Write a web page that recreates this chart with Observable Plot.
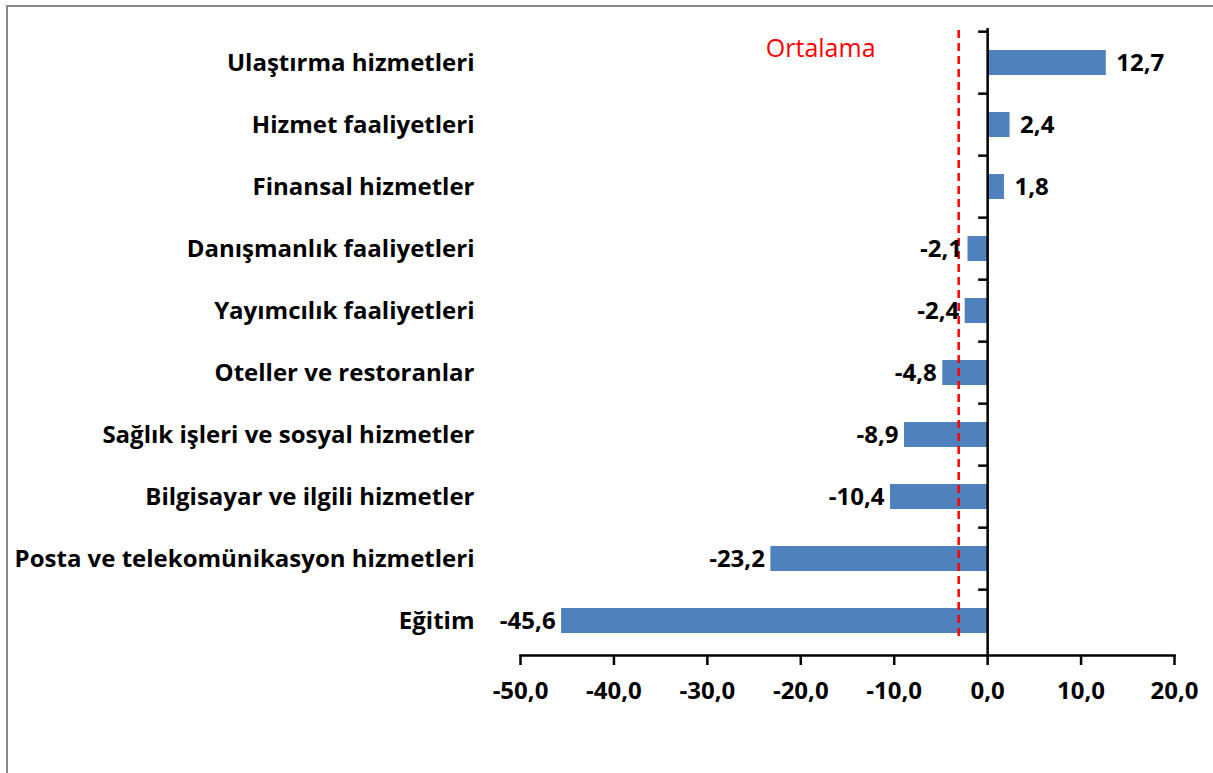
<!DOCTYPE html>
<html>
<head>
<meta charset="utf-8">
<script src="https://cdn.jsdelivr.net/npm/d3@7"></script>
<script src="https://cdn.jsdelivr.net/npm/@observablehq/plot@0.6"></script>
<style>
  html, body { margin: 0; padding: 0; background: #fff; overflow: hidden; }
  #wrap { position: relative; width: 1213px; height: 773px; }
  #frame { position: absolute; left: 6px; top: 5px; width: 1300px; height: 900px; border-left: 2px solid #888; border-top: 2px solid #888; pointer-events: none; }
  #chart { position: absolute; left: 0; top: 0; }
</style>
</head>
<body>
<div id="wrap"><div id="chart"></div><div id="frame"></div></div>
<script>
const categories = [
  "Ulaştırma hizmetleri",
  "Hizmet faaliyetleri",
  "Finansal hizmetler",
  "Danışmanlık faaliyetleri",
  "Yayımcılık faaliyetleri",
  "Oteller ve restoranlar",
  "Sağlık işleri ve sosyal hizmetler",
  "Bilgisayar ve ilgili hizmetler",
  "Posta ve telekomünikasyon hizmetleri",
  "Eğitim"
];
const values = [12.7, 2.4, 1.8, -2.1, -2.4, -4.8, -8.9, -10.4, -23.2, -45.6];
const average = -3.1;
const averageLabel = "Ortalama";
const xTicks = [-50, -40, -30, -20, -10, 0, 10, 20];

const data = categories.map((c, i) => ({category: c, value: values[i]}));
const fmt = v => v.toFixed(1).replace(".", ",");

const W = 1213, H = 773;
const mT = 28, mB = 118, mL = 520, mR = 39;
const step = (H - mT - mB) / categories.length;
const FONT = "'Open Sans', sans-serif";
const FS = 24;

const chart = Plot.plot({
  width: W,
  height: H,
  marginTop: mT,
  marginBottom: mB,
  marginLeft: mL,
  marginRight: mR,
  style: {fontFamily: FONT, background: "transparent", overflow: "visible"},
  x: {type: "linear", domain: [-50, 20], ticks: xTicks, tickFormat: fmt},
  y: {domain: categories, paddingInner: 0.6, paddingOuter: 0.3},
  marks: [
    Plot.barX(data, {x: "value", y: "category", fill: "#4F81BD"}),
    // y axis line at zero
    Plot.ruleX([0], {stroke: "#000", strokeWidth: 2.5}),
    // band boundary ticks on the zero axis
    Plot.ruleY(categories, {y: d => d, x1: -0.96, x2: 0, dy: -step / 2, stroke: "#000", strokeWidth: 2.5}),
    Plot.frame({anchor: "bottom", stroke: "#000", strokeWidth: 2.5}),
    Plot.axisX({ticks: xTicks, tickFormat: fmt, tickSize: 10, tickPadding: 16, strokeWidth: 2.5, fontSize: FS, fontWeight: "bold", fill: "#000", label: null}),
    Plot.axisY({tickSize: 0, tickPadding: 46, fontSize: FS, fontWeight: "bold", fill: "#000", label: null}),
    // average line
    Plot.ruleX([average], {stroke: "#FF0000", strokeWidth: 2.5, strokeDasharray: "8,5", insetTop: 2, insetBottom: 15}),
    Plot.text([averageLabel], {x: average, frameAnchor: "top", lineAnchor: "middle", dx: -138, dy: 20, fill: "#FF0000", fontSize: 25, fontWeight: "normal", textAnchor: "middle"}),
    // value labels
    Plot.text(data.filter(d => d.value >= 0), {x: "value", y: "category", text: d => fmt(d.value), textAnchor: "start", dx: 10, fontSize: FS, fontWeight: "bold", fill: "#000"}),
    Plot.text(data.filter(d => d.value < 0), {x: "value", y: "category", text: d => fmt(d.value), textAnchor: "end", dx: -6, fontSize: FS, fontWeight: "bold", fill: "#000"})
  ]
});
document.getElementById("chart").appendChild(chart);
</script>
</body>
</html>
